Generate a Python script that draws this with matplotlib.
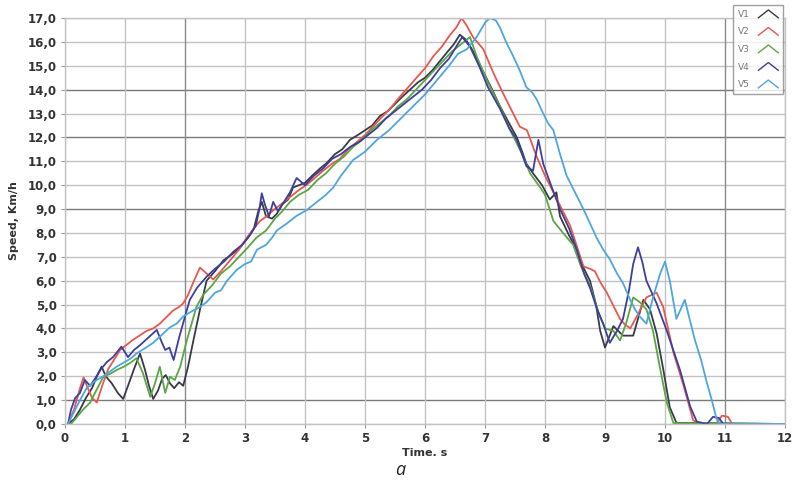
import matplotlib
matplotlib.use("Agg")
import matplotlib.pyplot as plt
from matplotlib.lines import Line2D
from matplotlib.legend_handler import HandlerBase

# ---- data (time s, speed km/h) ----
v1_t = [0.05, 0.15, 0.25, 0.35, 0.45, 0.55, 0.61, 0.68, 0.78, 0.88, 0.97, 1.05, 1.15, 1.25, 1.33, 1.4, 1.47,
        1.55, 1.62, 1.68, 1.75, 1.82, 1.9, 1.97, 2.05, 2.14, 2.25, 2.36, 2.5, 2.64, 2.78, 2.92, 3.05, 3.15,
        3.22, 3.28, 3.35, 3.45, 3.53, 3.62, 3.72, 3.8, 3.9, 4.0, 4.12, 4.25, 4.35, 4.5, 4.62, 4.75, 4.88,
        5.0, 5.12, 5.25, 5.38, 5.5, 5.62, 5.75, 5.88, 6.0, 6.12, 6.25, 6.38, 6.48, 6.58, 6.68, 6.78, 6.88,
        7.0, 7.12, 7.25, 7.4, 7.53, 7.62, 7.69, 7.8, 7.95, 8.08, 8.19, 8.25, 8.4, 8.53, 8.65, 8.75, 8.85,
        8.92, 9.0, 9.14, 9.3, 9.47, 9.64, 9.75, 9.86, 9.97, 10.08, 10.19, 12.0]
v1_v = [0.0, 0.2, 0.6, 1.1, 1.5, 2.1, 2.4, 2.0, 1.7, 1.3, 1.05, 1.6, 2.3, 2.95, 2.3, 1.6, 1.05,
        1.4, 1.9, 2.05, 1.7, 1.5, 1.75, 1.6, 2.4, 3.5, 4.8, 6.0, 6.4, 6.85, 7.1, 7.4, 7.8, 8.2,
        8.9, 9.3, 8.7, 8.6, 8.8, 9.2, 9.4, 9.9, 10.0, 10.1, 10.4, 10.7, 10.9, 11.3, 11.5, 11.9, 12.1,
        12.3, 12.5, 12.9, 13.1, 13.4, 13.7, 14.0, 14.3, 14.5, 14.8, 15.2, 15.6, 15.9, 16.3, 16.1, 15.7, 15.2,
        14.6, 14.0, 13.3, 12.6, 12.0, 11.4, 10.9, 10.5, 10.0, 9.4, 9.7, 8.7, 7.9, 7.3, 6.5, 6.0, 5.0,
        3.9, 3.2, 4.1, 3.7, 3.7, 5.2, 4.8, 3.8, 2.3, 0.7, 0.05, 0.0]

v2_t = [0.05, 0.15, 0.25, 0.31, 0.38, 0.45, 0.53, 0.62, 0.72, 0.82, 0.92, 1.02, 1.12, 1.24, 1.36, 1.47,
        1.58, 1.7, 1.8, 1.9, 1.97, 2.05, 2.15, 2.25, 2.36, 2.47, 2.6, 2.75, 2.9, 3.03, 3.15, 3.25, 3.36,
        3.47, 3.6, 3.75, 3.9, 4.02, 4.14, 4.3, 4.45, 4.58, 4.72, 4.86, 5.0, 5.15, 5.3, 5.45, 5.58, 5.72,
        5.86, 6.0, 6.14, 6.28, 6.42, 6.52, 6.61, 6.69, 6.8, 6.97, 7.14, 7.3, 7.47, 7.58, 7.7, 7.86, 8.0,
        8.14, 8.3, 8.42, 8.55, 8.64, 8.75, 8.83, 8.93, 9.03, 9.15, 9.25, 9.32, 9.42, 9.55, 9.69, 9.86,
        9.97, 10.05, 10.14, 10.31, 10.47, 10.6, 10.85, 10.95, 11.05, 11.12, 12.0]
v2_v = [0.0, 0.6, 1.5, 1.95, 1.5, 1.1, 0.9, 1.6, 2.3, 2.7, 3.1, 3.3, 3.5, 3.7, 3.9, 4.0,
        4.2, 4.5, 4.75, 4.9, 5.05, 5.4, 6.0, 6.55, 6.3, 6.05, 6.4, 6.85, 7.3, 7.8, 8.2, 8.5, 8.7,
        8.95, 9.2, 9.5, 9.8, 10.0, 10.25, 10.6, 10.9, 11.1, 11.5, 11.8, 12.1, 12.5, 12.9, 13.3, 13.7, 14.1,
        14.5, 14.9, 15.4, 15.8, 16.3, 16.6, 17.0, 16.7, 16.2, 15.7, 14.7, 13.85, 13.0, 12.45, 12.3, 11.2, 10.4,
        9.7, 8.9, 8.3, 7.3, 6.6, 6.5, 6.4, 5.9, 5.5, 4.9, 4.4, 4.2, 4.0, 4.6, 5.3, 5.5,
        4.9, 4.0, 3.0, 1.6, 0.15, 0.0, 0.0, 0.35, 0.3, 0.0, 0.0]

v3_t = [0.1, 0.2, 0.3, 0.42, 0.52, 0.64, 0.75, 0.86, 0.98, 1.08, 1.19, 1.3, 1.42, 1.5, 1.58, 1.67, 1.75,
        1.83, 1.92, 2.03, 2.19, 2.3, 2.45, 2.6, 2.75, 2.9, 3.05, 3.19, 3.35, 3.5, 3.62, 3.75, 3.9, 4.05,
        4.2, 4.35, 4.5, 4.65, 4.8, 4.95, 5.1, 5.25, 5.4, 5.55, 5.7, 5.85, 6.0, 6.15, 6.3, 6.45, 6.6,
        6.75, 6.86, 7.03, 7.19, 7.3, 7.42, 7.6, 7.75, 7.92, 8.0, 8.14, 8.3, 8.47, 8.6, 8.75, 8.9, 9.0,
        9.14, 9.25, 9.35, 9.47, 9.58, 9.69, 9.8, 9.92, 10.03, 10.14, 12.0]
v3_v = [0.0, 0.3, 0.6, 0.9, 1.4, 1.98, 2.1, 2.26, 2.4, 2.55, 2.75, 2.12, 1.14, 1.7, 2.4, 1.3, 1.98,
        1.84, 2.4, 3.5, 4.9, 5.4, 5.8, 6.3, 6.6, 7.0, 7.4, 7.8, 8.1, 8.6, 8.9, 9.3, 9.6, 9.8,
        10.2, 10.5, 10.9, 11.2, 11.6, 11.9, 12.3, 12.6, 12.9, 13.3, 13.6, 14.0, 14.4, 14.8, 15.2, 15.6, 15.9,
        16.2, 15.4, 14.4, 13.6, 13.0, 12.3, 11.4, 10.5, 9.9, 9.6, 8.5, 8.0, 7.5, 6.6, 5.8, 4.6, 4.0,
        3.9, 3.5, 4.2, 5.3, 5.1, 4.8, 3.9, 2.3, 0.9, 0.04, 0.0]

v4_t = [0.05, 0.1, 0.17, 0.25, 0.33, 0.42, 0.5, 0.6, 0.7, 0.8, 0.94, 1.05, 1.15, 1.25, 1.38, 1.53,
        1.6, 1.67, 1.74, 1.81, 1.9, 2.0, 2.08, 2.2, 2.36, 2.5, 2.65, 2.8, 2.95, 3.08, 3.18, 3.24, 3.28,
        3.33, 3.4, 3.47, 3.55, 3.65, 3.75, 3.86, 4.0, 4.15, 4.3, 4.45, 4.6, 4.75, 4.9, 5.05, 5.2, 5.35,
        5.5, 5.65, 5.8, 5.95, 6.1, 6.25, 6.4, 6.52, 6.62, 6.75, 6.9, 7.05, 7.25, 7.4, 7.53, 7.69, 7.8,
        7.89, 7.97, 8.1, 8.25, 8.4, 8.53, 8.65, 8.75, 8.87, 8.97, 9.08, 9.2, 9.3, 9.4, 9.47, 9.55, 9.62,
        9.69, 9.86, 10.03, 10.25, 10.42, 10.53, 10.7, 10.8, 10.9, 10.97, 12.0]
v4_v = [0.0, 0.6, 1.09, 1.3, 1.84, 1.6, 1.9, 2.3, 2.6, 2.8, 3.24, 2.8, 3.1, 3.3, 3.6, 3.94,
        3.5, 3.1, 3.2, 2.68, 3.6, 4.5, 5.2, 5.7, 6.17, 6.5, 6.8, 7.2, 7.5, 7.9, 8.3, 9.0, 9.66,
        9.2, 8.7, 9.3, 8.9, 9.3, 9.7, 10.3, 10.0, 10.4, 10.7, 11.1, 11.3, 11.6, 11.8, 12.1, 12.4, 12.8,
        13.1, 13.4, 13.7, 14.0, 14.4, 14.9, 15.3, 15.8, 16.2, 15.8, 15.0, 14.1, 13.2, 12.4, 11.9, 10.8, 10.6,
        11.9, 10.9, 10.0, 9.0, 8.2, 7.3, 6.3, 5.7, 4.8, 4.2, 3.4, 3.9, 4.4, 5.6, 6.7, 7.4, 6.8,
        6.0, 5.05, 3.9, 2.26, 0.73, 0.1, 0.0, 0.3, 0.25, 0.0, 0.0]

v5_t = [0.05, 0.15, 0.25, 0.36, 0.5, 0.64, 0.75, 0.86, 1.0, 1.1, 1.19, 1.35, 1.47, 1.6, 1.75, 1.86, 1.97,
        2.1, 2.25, 2.36, 2.5, 2.6, 2.7, 2.86, 3.0, 3.1, 3.2, 3.35, 3.45, 3.53, 3.7, 3.85, 4.03, 4.2,
        4.35, 4.47, 4.6, 4.8, 5.0, 5.2, 5.4, 5.6, 5.8, 6.0, 6.2, 6.4, 6.55, 6.7, 6.86, 7.0, 7.08,
        7.18, 7.25, 7.35, 7.47, 7.58, 7.69, 7.78, 7.86, 7.97, 8.05, 8.14, 8.25, 8.36, 8.5, 8.64, 8.75,
        8.86, 8.97, 9.08, 9.2, 9.3, 9.42, 9.5, 9.58, 9.69, 9.8, 9.92, 10.0, 10.08, 10.19, 10.26, 10.33,
        10.42, 10.5, 10.6, 10.69, 10.78, 10.86, 10.92, 12.0]
v5_v = [0.0, 0.5, 1.0, 1.5, 1.8, 2.0, 2.2, 2.4, 2.6, 2.75, 2.95, 3.2, 3.4, 3.7, 4.05, 4.2, 4.5,
        4.7, 4.9, 5.1, 5.5, 5.6, 6.0, 6.45, 6.7, 6.8, 7.3, 7.5, 7.8, 8.1, 8.4, 8.7, 8.96, 9.3,
        9.6, 9.9, 10.4, 11.05, 11.4, 11.9, 12.3, 12.8, 13.3, 13.8, 14.4, 15.0, 15.5, 15.7, 16.2, 16.8, 17.0,
        16.9, 16.6, 16.0, 15.4, 14.8, 14.1, 13.9, 13.6, 13.0, 12.6, 12.3, 11.3, 10.4, 9.7, 9.0, 8.4,
        7.8, 7.3, 6.9, 6.3, 5.9, 5.2, 4.8, 4.5, 4.2, 5.3, 6.3, 6.8, 6.0, 4.4, 4.8, 5.2,
        4.3, 3.5, 2.7, 1.8, 1.0, 0.2, 0.0, 0.0]

series_names = ["V1", "V2", "V3", "V4", "V5"]
series_t = [v1_t, v2_t, v3_t, v4_t, v5_t]
series_v = [v1_v, v2_v, v3_v, v4_v, v5_v]
colors = ["#3a3a48", "#e8584f", "#5aa646", "#3d3f9c", "#4fa6dc"]

x_ticks = list(range(0, 13))
y_ticks = list(range(0, 18))
y_tick_labels = [f"{v},0" for v in y_ticks]


class ChevronHandler(HandlerBase):
    def create_artists(self, legend, orig_handle, xdescent, ydescent, width, height, fontsize, trans):
        x0, y0 = -xdescent, -ydescent
        line = Line2D([x0, x0 + width * 0.5, x0 + width],
                      [y0 + 0.05 * height, y0 + 0.95 * height, y0 + 0.05 * height],
                      color=orig_handle.get_color(), lw=1.0, transform=trans)
        return [line]


fig = plt.figure(figsize=(7.96, 4.92), dpi=100)
ax = fig.add_axes([65 / 796, 1 - 424 / 492, 720 / 796, 406 / 492])

dark_y = {1, 9, 12, 14}
dark_x = {2, 11}
for y in y_ticks:
    ax.axhline(y, color="#7a7a7a" if y in dark_y else "#c2c2c2", lw=1.0, zorder=0)
for x in x_ticks:
    ax.axvline(x, color="#8a8a8a" if x in dark_x else "#c2c2c2", lw=1.0, zorder=0)

handles = []
for name, t, v, c in zip(series_names, series_t, series_v, colors):
    h, = ax.plot(t, v, color=c, lw=1.3, label=name)
    handles.append(h)

ax.set_xlim(0, 12)
ax.set_ylim(0, 17)
ax.set_xticks(x_ticks)
ax.set_xticklabels([str(x) for x in x_ticks], fontsize=8.5, fontweight="bold", color="#333333")
ax.set_yticks(y_ticks)
ax.set_yticklabels(y_tick_labels, fontsize=8.5, fontweight="bold", color="#333333")
ax.tick_params(axis="both", length=3, color="#999999", pad=3)
for s in ax.spines.values():
    s.set_color("#c2c2c2")
    s.set_linewidth(1.0)

ax.set_xlabel("Time. s", fontsize=8, fontweight="bold", color="#333333", labelpad=2)
ax.set_ylabel("Speed, Km/h", fontsize=8, fontweight="bold", color="#333333", labelpad=6)

leg = fig.legend(handles=handles, labels=series_names, loc="upper left",
                 bbox_to_anchor=(733 / 796, 1 - 5 / 492), bbox_transform=fig.transFigure,
                 handler_map={Line2D: ChevronHandler()}, markerfirst=False,
                 fontsize=6.5, frameon=True, fancybox=False, handlelength=2.2, handleheight=1.1,
                 labelspacing=0.9, borderpad=0.5, handletextpad=1.0, borderaxespad=0)
leg.get_frame().set_edgecolor("#888888")
leg.get_frame().set_linewidth(1.0)
for txt in leg.get_texts():
    txt.set_color("#777777")

fig.text(400 / 796, 1 - 470 / 492, "a", fontsize=13, style="italic", family="Open Sans",
         ha="center", va="center", color="#222222")

fig.savefig("out.png", dpi=100)
